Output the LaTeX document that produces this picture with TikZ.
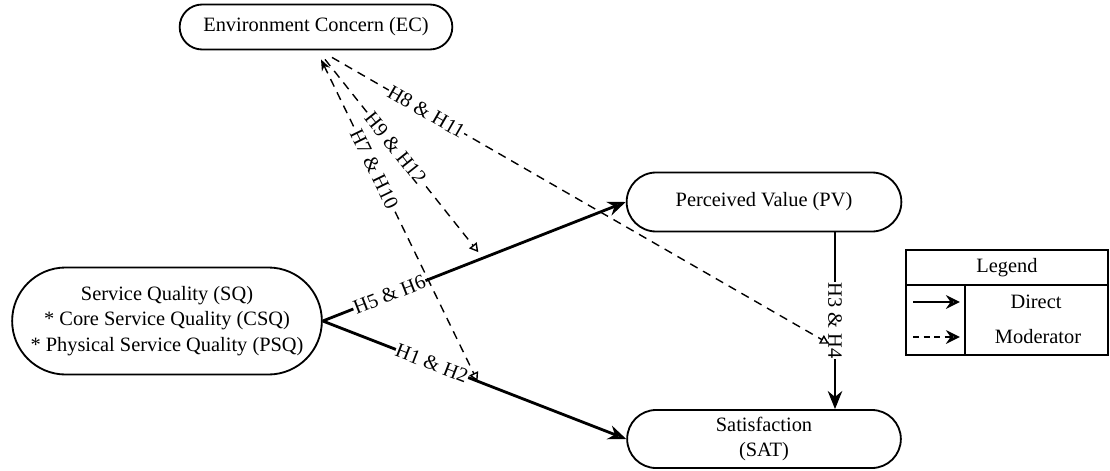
\documentclass[tikz,border=0pt]{standalone}
\usepackage{fontspec}
\setmainfont{Liberation Serif}
\usetikzlibrary{shapes.misc}
\usetikzlibrary{positioning}
\usetikzlibrary{calc}
\usetikzlibrary{arrows.meta}
\tikzset{construct/.style={rounded rectangle,draw,line width=1.3pt,align=center,font=\fontsize{14.5}{18}\selectfont},
direct/.style={line width=2pt,-{Stealth[open,length=4.5mm,width=3.6mm]}},
moderator/.style={line width=1pt,dash pattern=on 6pt off 4.5pt,-{Triangle[open,length=2.2mm,width=2.4mm]}},
hyp/.style={sloped,fill=white,inner sep=0.5pt,font=\fontsize{14.5}{16}\selectfont},
legendcell/.style={draw,line width=1.3pt,inner sep=0pt,font=\fontsize{14.5}{16}\selectfont}}

\begin{document}
\begin{tikzpicture}[x=0.025cm,y=0.025cm]
\useasboundingbox (0,0) rectangle (1110,470);

% constructs
\node (EC) at (316,443) [construct,minimum width=7.05cm,minimum height=1.125cm] {Environment Concern (EC)};
\node (PV) at (764,268) [construct,minimum width=7.1cm,minimum height=1.475cm] {Perceived Value (PV)};
\node (SQ) at (167,149) [construct,minimum width=7.975cm,minimum height=2.675cm] {Service Quality (SQ)\\* Core Service Quality (CSQ)\\* Physical Service Quality (PSQ)};
\node (SAT) at (764,31) [construct,minimum width=7.075cm,minimum height=1.45cm] {Satisfaction\\(SAT)};

% direct effects
\draw [direct] (SQ.east) -- (PV.west) node [hyp,pos=0.22] {H5 \& H6} coordinate [pos=0.52] (m9);
\draw [direct] (SQ.east) -- (SAT.west) node [hyp,pos=0.36] {H1 \& H2} coordinate [pos=0.51] (m7);
\coordinate (pvs) at ($(PV.south)+(71,0)$);
\draw [direct] (pvs) -- (pvs |- SAT.north) node [hyp,pos=0.5] {H3 \& H4} coordinate [pos=0.63] (m8);

% moderating effects
\coordinate (ec7) at ($(EC.south)+(5,-9)$);
\coordinate (ec9) at ($(EC.south)+(9,-9)$);
\coordinate (ec8) at ($(EC.south)+(16,-7)$);
\draw [moderator,{Stealth[length=2.8mm,width=2.2mm]}-{Triangle[open,length=2.2mm,width=2.4mm]}] (ec7) -- (m7) node [hyp,pos=0.34] {H7 \& H10};
\draw [moderator] (ec9) -- ($(m9)+(-2,7)$) node [hyp,pos=0.46] {H9 \& H12};
\draw [moderator] (ec8) -- ($(m8)+(-6,0)$) node [hyp,pos=0.19] {H8 \& H11};

% legend
\node (leg) at (1007,202.5) [legendcell,minimum width=5.05cm,minimum height=0.875cm] {Legend};
\node (legbox) at (1007,150) [legendcell,minimum width=5.05cm,minimum height=1.75cm] {};
\draw [line width=1.3pt] (965,0 |- legbox.north) -- (965,0 |- legbox.south);
\node (ldir) at (1036,168) [font=\fontsize{14.5}{16}\selectfont] {Direct};
\node (lmod) at (1038,133) [font=\fontsize{14.5}{16}\selectfont] {Moderator};
\coordinate (d1) at (913,168);
\coordinate (d2) at (960,168);
\coordinate (m1) at (913,133);
\coordinate (m2) at (960,133);
\draw [direct,-{Stealth[open,length=3.5mm,width=3.4mm]}] (d1) -- (d2);
\draw [direct,dash pattern=on 4.5pt off 3pt,-{Stealth[open,length=3.5mm,width=3.4mm]}] (m1) -- (m2);

\end{tikzpicture}
\end{document}
